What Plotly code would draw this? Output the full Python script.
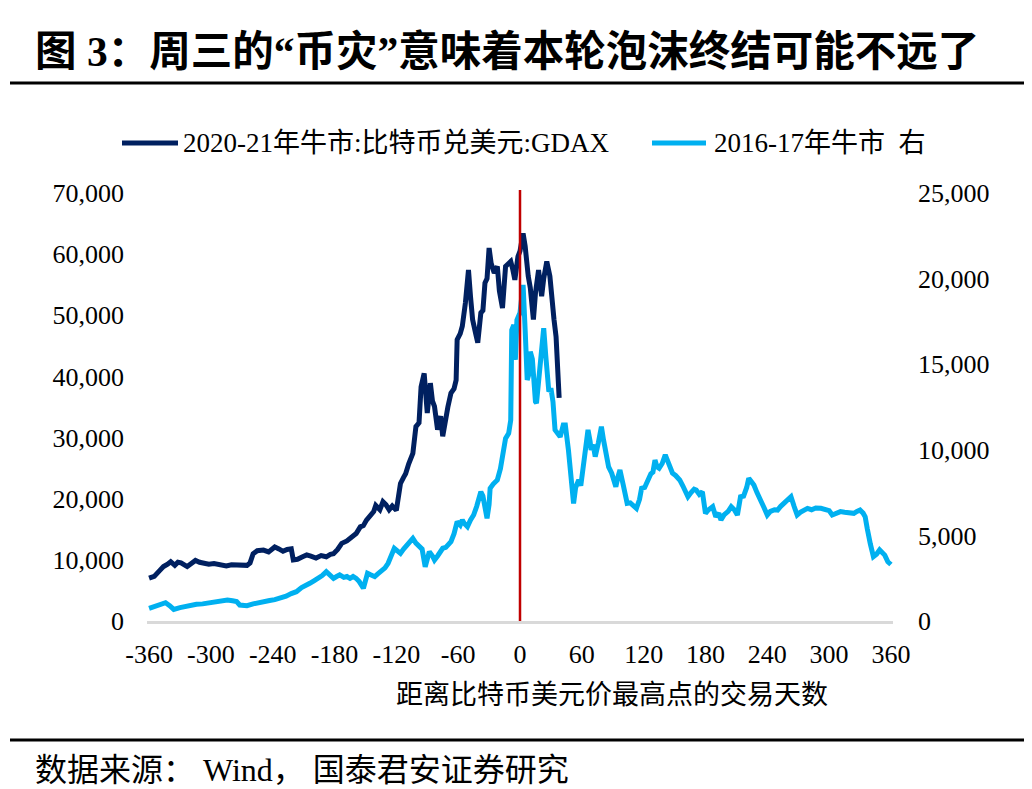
import plotly.graph_objects as go

# ---- data ----
days_2021 = [-360,-355,-350,-346,-342,-339,-335,-332,-329,-326,-323,-319,-315,-311,-307,-302,-297,-291,-285,-280,
             -275,-270,-265,-262,-259,-255,-249,-244,-238,-234,-230,-226,-222,-220,-216,-211,-207,-203,-198,-193,
             -188,-184,-181,-177,-173,-168,-163,-159,-155,-152,-149,-145,-142,-140,-136,-133,-130,-127,-124,-120,
             -118,-116,-113,-111,-108,-104,-101,-98,-96,-93,-90,-87,-85,-83,-80,-77,-75,-72,-70,-67,
             -64,-62,-61,-58,-56,-53,-50,-48,-46,-43,-41,-38,-36,-34,-32,-30,-28,-25,-22,-20,
             -17,-14,-12,-9,-7,-5,-2,0,3,5,8,10,13,15,18,21,23,26,29,31,33,35,37,38]
btc_2021 = [7000,7300,8200,8900,9300,9700,9100,9600,9500,9100,8900,9400,9900,9600,9400,9300,9400,9200,9000,9200,
            9100,9200,9100,9500,11000,11500,11600,11300,12100,11800,11400,11700,11800,10000,10100,10500,10800,10600,10300,10700,
            10500,10900,11000,11700,12700,13100,13700,14300,15400,15600,16500,17400,17900,18900,18200,19500,19000,18200,18800,18100,
            20200,22500,23500,24100,25700,27400,31800,32400,38300,40500,34000,38900,36000,35100,31300,33500,30200,34000,35000,37300,
            38000,39400,46000,47000,48200,52000,57400,53000,49300,47000,45500,50400,50800,55300,56000,61000,58500,56900,58000,54000,
            51200,58000,58400,58800,57500,55800,59600,60500,63400,61300,56400,54500,49300,53600,57400,53100,56000,58800,56400,52000,
            49300,46500,40000,36500]

days_1617 = [-360,-355,-350,-344,-340,-336,-330,-325,-320,-314,-308,-300,-294,-288,-284,-279,-275,-272,-268,-265,
             -259,-254,-249,-243,-238,-233,-227,-222,-217,-212,-208,-204,-200,-196,-192,-188,-185,-181,-178,-175,
             -171,-168,-165,-162,-159,-156,-152,-150,-148,-145,-141,-138,-135,-131,-128,-125,-122,-119,-116,-113,
             -110,-107,-104,-101,-98,-95,-92,-90,-88,-85,-83,-80,-77,-75,-72,-69,-67,-64,-61,-58,
             -56,-54,-51,-48,-45,-42,-40,-38,-36,-34,-32,-30,-29,-26,-22,-19,-16,-14,-11,-9,
             -8,-6,-4.5,-3,0,2,3,5,7,9,10,12,13,15,16,19,21,23,25,28,
             30,32,34,36,39,42,44,47,49,52,54,57,59,61,63,66,68,69,71,73,
             76,79,81,84,86,89,91,93,95,97,100,102,104,107,110,113,116,118,121,124,
             127,129,131,133,135,138,141,143,145,148,151,155,158,161,163,166,169,171,174,177,
             180,183,187,190,193,195,198,202,205,208,211,214,217,220,222,225,227,230,234,237,
             240,243,247,250,253,256,259,263,266,269,272,276,279,283,287,292,296,300,303,307,
             311,315,320,324,327,330,333,335,337,338,340,343,346,349,351,354,357,360]
btc_1617 = [740,850,950,1070,900,680,780,850,935,980,1000,1070,1150,1200,1230,1180,1130,935,880,890,
            1000,1080,1170,1200,1250,1330,1450,1600,1710,1950,2050,2200,2350,2490,2650,2880,2700,2490,2600,2690,
            2550,2600,2490,2600,2490,2300,1910,2400,2790,2700,2590,2750,2880,3100,3370,3800,4250,4100,3950,4200,
            4400,4600,4830,4550,4340,4200,3170,3700,4050,3800,3560,3800,4100,4250,4300,4500,4630,5100,5800,5600,
            5900,5700,5510,5900,6190,6700,7100,7550,7300,6600,6000,6800,7750,8000,8240,8900,9890,10670,10960,11740,
            17000,17300,15250,17580,18000,19530,19630,17000,14080,14500,15730,15300,14080,12810,12720,14500,16000,17100,15500,13400,
            13600,12810,11160,11000,10760,11450,11450,9990,8820,6870,7800,8240,7900,8820,9500,11160,10500,9990,10300,9600,
            10400,11350,10600,9400,9000,8630,8200,7840,8400,8820,8000,7300,6870,6900,6700,6580,7100,7750,7800,8240,
            8600,8700,9400,9000,8920,9200,9700,9400,9000,8630,8500,8240,7900,7500,7260,7500,7700,7650,7400,7550,
            6290,6500,6680,6090,6300,5900,6200,6400,6680,6500,6190,7260,7300,7800,8340,8100,7940,7500,7070,6600,
            6190,6400,6500,6480,6700,6870,7000,7260,6700,6190,6350,6500,6580,6500,6600,6580,6500,6450,6190,6300,
            6390,6350,6300,6290,6400,6480,6300,6090,5400,4920,4500,3760,3900,4150,4000,3850,3460,3300]

x_ticks = [-360, -300, -240, -180, -120, -60, 0, 60, 120, 180, 240, 300, 360]
name_2021 = "2020-21年牛市:比特币兑美元:GDAX"
name_1617 = "2016-17年牛市  右"
title_text = "图 3：周三的“币灾”意味着本轮泡沫终结可能不远了"
xaxis_title = "距离比特币美元价最高点的交易天数"
source_text = "数据来源： Wind， 国泰君安证券研究"

COLOR_2021 = "#002060"
COLOR_1617 = "#00b0f0"
FONT = "Liberation Serif, Noto Sans CJK SC, serif"

fig = go.Figure()
fig.add_trace(go.Scatter(x=days_2021, y=btc_2021, mode="lines", name=name_2021,
                         line=dict(color=COLOR_2021, width=5), yaxis="y"))
fig.add_trace(go.Scatter(x=days_1617, y=btc_1617, mode="lines", name=name_1617,
                         line=dict(color=COLOR_1617, width=5), yaxis="y2"))

# page has an 8px body margin: figure origin sits at (8, 8) of the window
OFF = 8
W, H = 1032 - OFF, 789 - OFF
L, R, T, B = 147 - OFF, 893 - OFF, 193 - OFF, 621 - OFF
pw, ph = R - L, B - T

def px_x(px):  # window pixel -> paper x
    return (px - OFF - L) / pw

def px_y(py):  # window pixel -> paper y
    return (B - (py - OFF)) / ph

fig.update_layout(
    width=W, height=H,
    margin=dict(l=L, r=W - R, t=T, b=H - B, pad=0),
    paper_bgcolor="white", plot_bgcolor="white",
    font=dict(family=FONT, size=26, color="black"),
    showlegend=False,
    xaxis=dict(range=[-362, 362], tickvals=x_ticks, ticktext=[str(v) for v in x_ticks],
               showgrid=False, zeroline=False, showline=True, linecolor="#d9d9d9", linewidth=3,
               ticks="", ticklabelstandoff=8, tickfont=dict(family=FONT, size=26)),
    yaxis=dict(range=[0, 70000], dtick=10000, tickformat=",", showgrid=False, zeroline=False,
               showline=False, ticks="", ticklabelstandoff=22, tickfont=dict(family=FONT, size=26)),
    yaxis2=dict(range=[0, 25000], dtick=5000, tickformat=",", overlaying="y", side="right",
                showgrid=False, zeroline=False, showline=False, ticks="", ticklabelstandoff=24,
                tickfont=dict(family=FONT, size=26)),
)

# red vertical line at peak day
fig.add_shape(type="line", xref="x", yref="paper", x0=0, x1=0, y0=0, y1=px_y(190),
              line=dict(color="#c00000", width=2.5), layer="above")
# title underline and source separator
fig.add_shape(type="line", xref="paper", yref="paper", x0=px_x(10), x1=px_x(1032),
              y0=px_y(83), y1=px_y(83), line=dict(color="black", width=3))
fig.add_shape(type="line", xref="paper", yref="paper", x0=px_x(10), x1=px_x(1032),
              y0=px_y(740), y1=px_y(740), line=dict(color="black", width=3))

# legend (drawn manually to match the reference spacing)
legend_items = [(name_2021, COLOR_2021, 122, 178, 181), (name_1617, COLOR_1617, 652, 706, 712)]
for name, color, lx0, lx1, tx in legend_items:
    fig.add_shape(type="line", xref="paper", yref="paper", x0=px_x(lx0), x1=px_x(lx1),
                  y0=px_y(143), y1=px_y(143), line=dict(color=color, width=5))
    fig.add_annotation(text=name, xref="paper", yref="paper", x=px_x(tx), y=px_y(143),
                       xanchor="left", yanchor="middle", showarrow=False,
                       font=dict(family=FONT, size=27, color="black"))

fig.add_annotation(text="<b>" + title_text + "</b>", xref="paper", yref="paper",
                   x=px_x(33), y=px_y(52), xanchor="left", yanchor="middle", showarrow=False,
                   font=dict(family=FONT, size=41.5, color="black"))
fig.add_annotation(text=xaxis_title, xref="paper", yref="paper",
                   x=px_x(612), y=px_y(695), xanchor="center", yanchor="middle", showarrow=False,
                   font=dict(family=FONT, size=27, color="black"))
fig.add_annotation(text=source_text, xref="paper", yref="paper",
                   x=px_x(33), y=px_y(770), xanchor="left", yanchor="middle", showarrow=False,
                   font=dict(family=FONT, size=32, color="black"))

fig.write_html("out.html")
